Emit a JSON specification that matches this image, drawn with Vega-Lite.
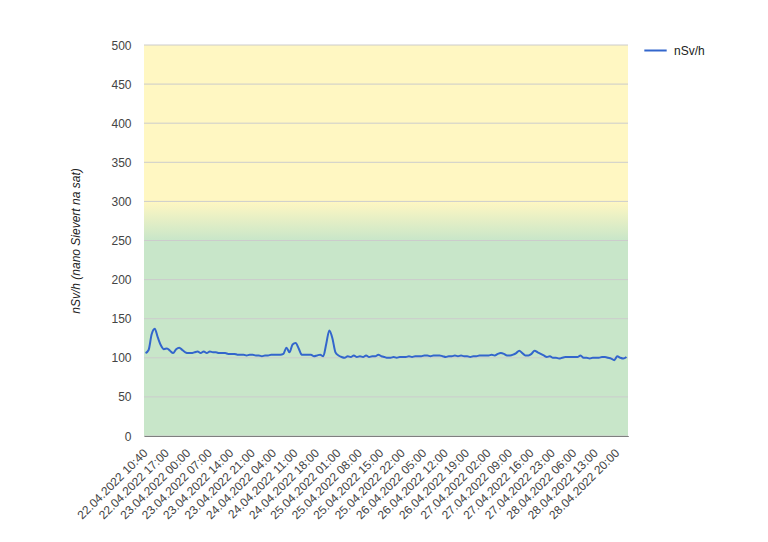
{
  "$schema": "https://vega.github.io/schema/vega-lite/v6.json",
  "autosize": {"type": "none"},
  "width": 484,
  "height": 391,
  "padding": {"left": 144, "top": 45, "right": 140, "bottom": 106},
  "background": "white",
  "config": {
    "view": {"stroke": null},
    "font": "Liberation Sans",
    "axis": {"labelFont": "Liberation Sans", "titleFont": "Liberation Sans"},
    "axisY": {
      "labelOverlap": false,
      "titleFontStyle": "italic",
      "titleFontWeight": "normal",
      "titleFontSize": 12,
      "titleColor": "#222222",
      "titlePadding": 28,
      "labelFontSize": 12,
      "labelColor": "#444444",
      "labelPadding": 13,
      "ticks": false,
      "domain": false,
      "grid": false
    },
    "legend": {"labelFont": "Liberation Sans"}
  },
  "resolve": {"axis": {"y": "independent"}},
  "datasets": {
    "grid": [{"g":0},{"g":50},{"g":100},{"g":150},{"g":200},{"g":250},{"g":300},{"g":350},{"g":400},{"g":450},{"g":500}],
    "series": [
    {"t":"22.04.2022 10:40","v":106},{"t":"22.04.2022 11:00","v":110},{"t":"22.04.2022 12:00","v":130},{"t":"22.04.2022 13:00","v":137},{"t":"22.04.2022 14:00","v":126},{"t":"22.04.2022 15:00","v":116},{"t":"22.04.2022 16:00","v":111},{"t":"22.04.2022 17:00","v":112},{"t":"22.04.2022 18:00","v":109},{"t":"22.04.2022 19:00","v":106},{"t":"22.04.2022 20:00","v":111},{"t":"22.04.2022 21:00","v":113},{"t":"22.04.2022 22:00","v":110},{"t":"22.04.2022 23:00","v":107},
    {"t":"23.04.2022 00:00","v":106},{"t":"23.04.2022 01:00","v":106},{"t":"23.04.2022 02:00","v":107},{"t":"23.04.2022 03:00","v":108},{"t":"23.04.2022 04:00","v":106},{"t":"23.04.2022 05:00","v":108},{"t":"23.04.2022 06:00","v":106},{"t":"23.04.2022 07:00","v":108},{"t":"23.04.2022 08:00","v":107},{"t":"23.04.2022 09:00","v":107},{"t":"23.04.2022 10:00","v":106},{"t":"23.04.2022 11:00","v":106},{"t":"23.04.2022 12:00","v":106},{"t":"23.04.2022 13:00","v":105},{"t":"23.04.2022 14:00","v":105},{"t":"23.04.2022 15:00","v":105},{"t":"23.04.2022 16:00","v":104},{"t":"23.04.2022 17:00","v":104},{"t":"23.04.2022 18:00","v":104},{"t":"23.04.2022 19:00","v":103},{"t":"23.04.2022 20:00","v":104},{"t":"23.04.2022 21:00","v":104},{"t":"23.04.2022 22:00","v":103},{"t":"23.04.2022 23:00","v":103},
    {"t":"24.04.2022 00:00","v":102},{"t":"24.04.2022 01:00","v":103},{"t":"24.04.2022 02:00","v":103},{"t":"24.04.2022 03:00","v":104},{"t":"24.04.2022 04:00","v":104},{"t":"24.04.2022 05:00","v":104},{"t":"24.04.2022 06:00","v":104},{"t":"24.04.2022 07:00","v":105},{"t":"24.04.2022 08:00","v":113},{"t":"24.04.2022 09:00","v":107},{"t":"24.04.2022 10:00","v":117},{"t":"24.04.2022 11:00","v":119},{"t":"24.04.2022 12:00","v":112},{"t":"24.04.2022 13:00","v":104},{"t":"24.04.2022 14:00","v":104},{"t":"24.04.2022 15:00","v":104},{"t":"24.04.2022 16:00","v":104},{"t":"24.04.2022 17:00","v":102},{"t":"24.04.2022 18:00","v":103},{"t":"24.04.2022 19:00","v":104},{"t":"24.04.2022 20:00","v":102},{"t":"24.04.2022 21:00","v":118},{"t":"24.04.2022 22:00","v":135},{"t":"24.04.2022 23:00","v":125},
    {"t":"25.04.2022 00:00","v":107},{"t":"25.04.2022 01:00","v":103},{"t":"25.04.2022 02:00","v":101},{"t":"25.04.2022 03:00","v":100},{"t":"25.04.2022 04:00","v":102},{"t":"25.04.2022 05:00","v":101},{"t":"25.04.2022 06:00","v":103},{"t":"25.04.2022 07:00","v":101},{"t":"25.04.2022 08:00","v":102},{"t":"25.04.2022 09:00","v":101},{"t":"25.04.2022 10:00","v":103},{"t":"25.04.2022 11:00","v":101},{"t":"25.04.2022 12:00","v":102},{"t":"25.04.2022 13:00","v":102},{"t":"25.04.2022 14:00","v":104},{"t":"25.04.2022 15:00","v":102},{"t":"25.04.2022 16:00","v":101},{"t":"25.04.2022 17:00","v":100},{"t":"25.04.2022 18:00","v":100},{"t":"25.04.2022 19:00","v":101},{"t":"25.04.2022 20:00","v":100},{"t":"25.04.2022 21:00","v":101},{"t":"25.04.2022 22:00","v":101},{"t":"25.04.2022 23:00","v":101},
    {"t":"26.04.2022 00:00","v":102},{"t":"26.04.2022 01:00","v":101},{"t":"26.04.2022 02:00","v":102},{"t":"26.04.2022 03:00","v":102},{"t":"26.04.2022 04:00","v":102},{"t":"26.04.2022 05:00","v":103},{"t":"26.04.2022 06:00","v":103},{"t":"26.04.2022 07:00","v":102},{"t":"26.04.2022 08:00","v":103},{"t":"26.04.2022 09:00","v":103},{"t":"26.04.2022 10:00","v":103},{"t":"26.04.2022 11:00","v":102},{"t":"26.04.2022 12:00","v":101},{"t":"26.04.2022 13:00","v":102},{"t":"26.04.2022 14:00","v":102},{"t":"26.04.2022 15:00","v":103},{"t":"26.04.2022 16:00","v":102},{"t":"26.04.2022 17:00","v":103},{"t":"26.04.2022 18:00","v":102},{"t":"26.04.2022 19:00","v":102},{"t":"26.04.2022 20:00","v":101},{"t":"26.04.2022 21:00","v":102},{"t":"26.04.2022 22:00","v":102},{"t":"26.04.2022 23:00","v":103},
    {"t":"27.04.2022 00:00","v":103},{"t":"27.04.2022 01:00","v":103},{"t":"27.04.2022 02:00","v":103},{"t":"27.04.2022 03:00","v":104},{"t":"27.04.2022 04:00","v":103},{"t":"27.04.2022 05:00","v":105},{"t":"27.04.2022 06:00","v":106},{"t":"27.04.2022 07:00","v":105},{"t":"27.04.2022 08:00","v":103},{"t":"27.04.2022 09:00","v":103},{"t":"27.04.2022 10:00","v":104},{"t":"27.04.2022 11:00","v":106},{"t":"27.04.2022 12:00","v":109},{"t":"27.04.2022 13:00","v":106},{"t":"27.04.2022 14:00","v":103},{"t":"27.04.2022 15:00","v":103},{"t":"27.04.2022 16:00","v":105},{"t":"27.04.2022 17:00","v":109},{"t":"27.04.2022 18:00","v":107},{"t":"27.04.2022 19:00","v":105},{"t":"27.04.2022 20:00","v":103},{"t":"27.04.2022 21:00","v":101},{"t":"27.04.2022 22:00","v":102},{"t":"27.04.2022 23:00","v":100},
    {"t":"28.04.2022 00:00","v":100},{"t":"28.04.2022 01:00","v":99},{"t":"28.04.2022 02:00","v":100},{"t":"28.04.2022 03:00","v":101},{"t":"28.04.2022 04:00","v":101},{"t":"28.04.2022 05:00","v":101},{"t":"28.04.2022 06:00","v":101},{"t":"28.04.2022 07:00","v":101},{"t":"28.04.2022 08:00","v":103},{"t":"28.04.2022 09:00","v":100},{"t":"28.04.2022 10:00","v":100},{"t":"28.04.2022 11:00","v":99},{"t":"28.04.2022 12:00","v":100},{"t":"28.04.2022 13:00","v":100},{"t":"28.04.2022 14:00","v":100},{"t":"28.04.2022 15:00","v":101},{"t":"28.04.2022 16:00","v":101},{"t":"28.04.2022 17:00","v":100},{"t":"28.04.2022 18:00","v":99},{"t":"28.04.2022 19:00","v":97},{"t":"28.04.2022 20:00","v":102},{"t":"28.04.2022 21:00","v":100},{"t":"28.04.2022 22:00","v":99},{"t":"28.04.2022 23:00","v":101}
    ]
  },
  "layer": [
    {
      "data": {"name": "series"},
      "mark": {
        "type": "rect",
        "fill": {
          "gradient": "linear", "x1": 0, "y1": 0, "x2": 0, "y2": 1,
          "stops": [
            {"offset": 0, "color": "#fff7c2"},
            {"offset": 0.4, "color": "#fff7c2"},
            {"offset": 0.5, "color": "#c8e6c9"},
            {"offset": 1, "color": "#c8e6c9"}
          ]
        }
      },
      "encoding": {
        "y": {
          "datum": 0, "type": "quantitative",
          "scale": {"domain": [0, 500], "nice": false},
          "axis": null
        },
        "y2": {"datum": 500}
      }
    },
    {
      "data": {"name": "grid"},
      "mark": {"type": "rule", "color": "#cccccc", "strokeWidth": 1},
      "encoding": {
        "y": {
          "field": "g", "type": "quantitative",
          "axis": {
            "orient": "left",
            "title": "nSv/h (nano Sievert na sat)",
            "values": [0, 100, 200, 300, 400, 500]
          }
        }
      }
    },
    {
      "data": {"name": "series"},
      "mark": {"type": "line", "strokeWidth": 2, "interpolate": "monotone"},
      "encoding": {
        "x": {
          "field": "t", "type": "ordinal", "sort": null,
          "scale": {"type": "point", "padding": 0.5},
          "axis": {
            "title": null,
            "values": ["22.04.2022 10:40","22.04.2022 17:00","23.04.2022 00:00","23.04.2022 07:00","23.04.2022 14:00","23.04.2022 21:00","24.04.2022 04:00","24.04.2022 11:00","24.04.2022 18:00","25.04.2022 01:00","25.04.2022 08:00","25.04.2022 15:00","25.04.2022 22:00","26.04.2022 05:00","26.04.2022 12:00","26.04.2022 19:00","27.04.2022 02:00","27.04.2022 09:00","27.04.2022 16:00","27.04.2022 23:00","28.04.2022 06:00","28.04.2022 13:00","28.04.2022 20:00"],
            "labelAngle": -45,
            "labelFontSize": 12,
            "labelColor": "#444444",
            "labelPadding": 11,
            "labelOffset": -4,
            "ticks": false,
            "grid": false,
            "domainColor": "#333333",
            "domainWidth": 1,
            "labelOverlap": false
          }
        },
        "y": {
          "field": "v", "type": "quantitative",
          "axis": {
            "orient": "left",
            "title": null,
            "values": [50, 150, 250, 350, 450]
          }
        },
        "color": {
          "datum": "nSv/h",
          "scale": {"domain": ["nSv/h"], "range": ["#3366cc"]},
          "legend": {
            "title": null,
            "orient": "none",
            "legendX": 499,
            "legendY": -7,
            "symbolType": "stroke",
            "symbolSize": 500,
            "symbolStrokeWidth": 2,
            "labelFontSize": 12,
            "labelColor": "#222222",
            "padding": 0,
            "labelOffset": 6
          }
        }
      }
    }
  ]
}
